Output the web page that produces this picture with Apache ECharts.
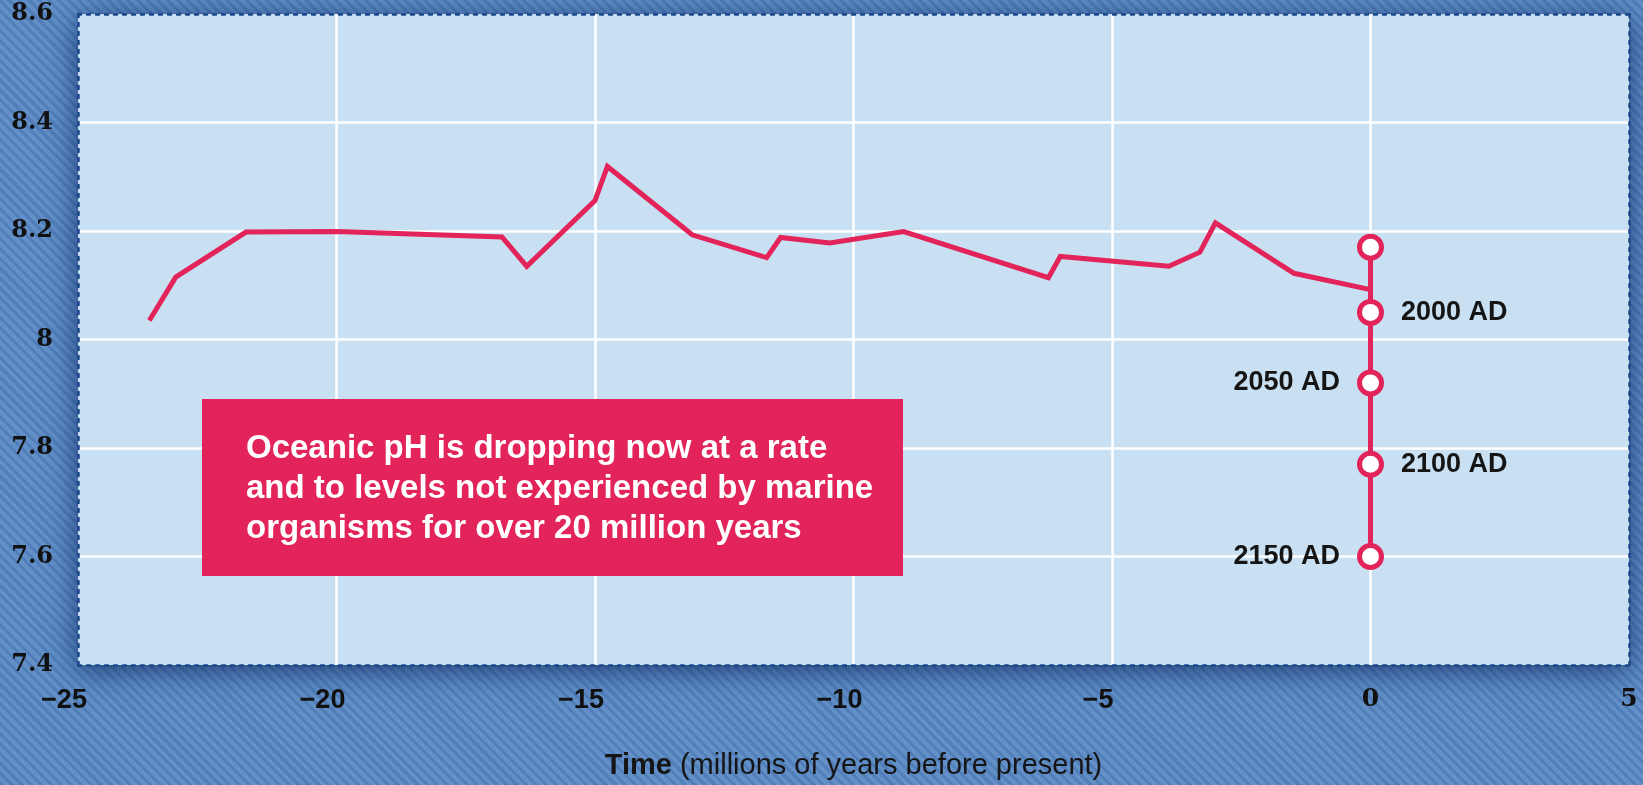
<!DOCTYPE html>
<html>
<head>
<meta charset="utf-8">
<script src="https://cdn.jsdelivr.net/npm/echarts@6/dist/echarts.min.js"></script>
<style>
  html, body { margin: 0; padding: 0; width: 1643px; height: 785px; overflow: hidden; }
  body {
    background-color: #5c8bc5;
    background-image: repeating-linear-gradient(45deg, rgba(38, 78, 140, 0.20) 0 3px, rgba(255, 255, 255, 0.04) 3px 7px);
  }
  #chart { width: 1643px; height: 785px; }
</style>
</head>
<body>
<div id="chart"></div>
<script>
// Ocean pH over the last ~24 million years (age in Myr before present)
const histAge = [-23.62, -23.11, -21.75, -20.0, -16.8, -16.32, -15.0, -14.76, -13.12,
                 -11.68, -11.41, -10.46, -9.03, -6.23, -6.0, -3.9, -3.3, -3.0, -1.48, 0];
const histPH  = [8.035, 8.115, 8.198, 8.199, 8.189, 8.135, 8.256, 8.319, 8.193,
                 8.151, 8.188, 8.178, 8.199, 8.114, 8.153, 8.135, 8.161, 8.215, 8.122, 8.092];

// Projected surface pH at the present day and in coming centuries
const projLabels = ['', '2000 AD', '2050 AD', '2100 AD', '2150 AD'];
const projAge    = [0, 0, 0, 0, 0];
const projPH     = [8.17, 8.05, 7.92, 7.77, 7.60];

// Axis ticks
const xTicks = [-25, -20, -15, -10, -5, 0, 5];
const yTicks = [7.4, 7.6, 7.8, 8.0, 8.2, 8.4, 8.6];

const calloutLines = [
  'Oceanic pH is dropping now at a rate',
  'and to levels not experienced by marine',
  'organisms for over 20 million years'
];

const PINK = '#e2245a';
const SERIF = '"DejaVu Serif", "Liberation Serif", serif';
const BORDER = { show: true, onZero: false, lineStyle: { color: '#1a468a', width: 2.5, type: [3, 6] } };
const edgeFade = (n) => Array.from({ length: n }, (_, i) => (i === 0 || i === n - 1) ? 'rgba(0,0,0,0)' : '#ffffff');

const chart = echarts.init(document.getElementById('chart'), null, { renderer: 'canvas' });

chart.setOption({
  animation: false,
  backgroundColor: 'transparent',
  grid: {
    left: 78, right: 14, top: 14, bottom: 117,
    show: true,
    backgroundColor: '#c9e0f2',
    borderWidth: 0,
    shadowColor: 'rgba(12, 40, 95, 0.8)',
    shadowBlur: 28,
    shadowOffsetY: 5
  },
  xAxis: [
    {
      type: 'value',
      position: 'bottom',
      min: xTicks[0],
      max: xTicks[xTicks.length - 1],
      interval: xTicks[1] - xTicks[0],
      axisLine: BORDER,
      axisTick: { show: false },
      splitLine: { show: true, lineStyle: { color: edgeFade(xTicks.length), width: 2.5 } },
      axisLabel: {
        margin: 22,
        formatter: (v) => v < 0 ? '{n|\u2212' + (-v) + '}' : '{p|' + v + '}',
        rich: {
          n: { fontFamily: 'Liberation Sans', fontWeight: 'bold', fontSize: 27, color: '#111', padding: [0, 28, 0, 0] },
          p: { fontFamily: SERIF, fontWeight: 'bold', fontSize: 25, color: '#111' }
        }
      },
      name: '{b|Time} (millions of years before present)',
      nameLocation: 'middle',
      nameGap: 86,
      nameTextStyle: {
        fontFamily: 'Liberation Sans', fontSize: 29, color: '#151515',
        rich: { b: { fontFamily: 'Liberation Sans', fontWeight: 'bold', fontSize: 29, color: '#151515' } }
      }
    },
    {
      type: 'value',
      position: 'top',
      min: xTicks[0],
      max: xTicks[xTicks.length - 1],
      interval: xTicks[1] - xTicks[0],
      axisLine: BORDER,
      axisTick: { show: false },
      axisLabel: { show: false },
      splitLine: { show: false }
    }
  ],
  yAxis: [
    {
      type: 'value',
      position: 'left',
      min: yTicks[0],
      max: yTicks[yTicks.length - 1],
      interval: 0.2,
      axisLine: BORDER,
      axisTick: { show: false },
      splitLine: { show: true, lineStyle: { color: edgeFade(yTicks.length), width: 2.5 } },
      axisLabel: {
        margin: 25,
        fontFamily: SERIF,
        fontWeight: 'bold',
        fontSize: 24,
        color: '#111',
        formatter: (v) => String(Math.round(v * 10) / 10)
      }
    },
    {
      type: 'value',
      position: 'right',
      min: yTicks[0],
      max: yTicks[yTicks.length - 1],
      interval: 0.2,
      axisLine: BORDER,
      axisTick: { show: false },
      axisLabel: { show: false },
      splitLine: { show: false }
    }
  ],
  series: [
    {
      name: 'pH record',
      type: 'line',
      data: histAge.map((a, i) => [a, histPH[i]]),
      symbol: 'none',
      lineStyle: { color: PINK, width: 5, join: 'miter' },
      z: 3
    },
    {
      name: 'Projection',
      type: 'line',
      data: projAge.map((a, i) => ({
        value: [a, projPH[i]],
        label: { position: i % 2 === 1 ? 'right' : 'left' }
      })),
      symbol: 'circle',
      symbolSize: 22,
      itemStyle: { color: '#ffffff', borderColor: PINK, borderWidth: 5 },
      lineStyle: { color: PINK, width: 5 },
      label: {
        show: true,
        distance: 17,
        formatter: (p) => projLabels[p.dataIndex],
        fontFamily: 'Liberation Sans',
        fontWeight: 'bold',
        fontSize: 27,
        color: '#151515'
      },
      z: 4
    }
  ],
  graphic: [
    {
      type: 'rect',
      left: 202, top: 399,
      shape: { width: 701, height: 177 },
      style: { fill: PINK },
      z: 100
    },
    {
      type: 'text',
      left: 246, top: 429,
      style: {
        text: calloutLines.join('\n'),
        fill: '#ffffff',
        fontFamily: 'Liberation Sans',
        fontWeight: 'bold',
        fontSize: 33,
        lineHeight: 40
      },
      z: 101
    }
  ]
});
</script>
</body>
</html>
